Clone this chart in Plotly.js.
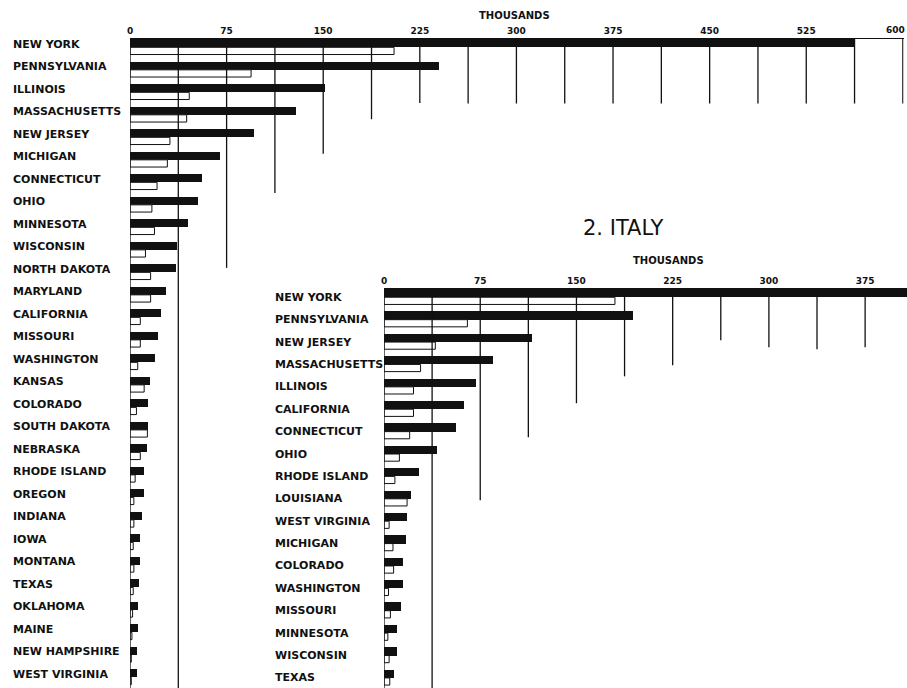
<!DOCTYPE html>
<html>
<head>
<meta charset="utf-8">
<script src="https://cdn.plot.ly/plotly-3.0.1.min.js"></script>
<style>
html,body{margin:0;padding:0;background:#fff;}
#chart{width:907px;height:688px;}
</style>
</head>
<body>
<div id="chart"></div>
<script>
// ---------- DATA (thousands) ----------
// Chart 1 (top-left panel)
const statesA = ["NEW YORK","PENNSYLVANIA","ILLINOIS","MASSACHUSETTS","NEW JERSEY","MICHIGAN",
  "CONNECTICUT","OHIO","MINNESOTA","WISCONSIN","NORTH DAKOTA","MARYLAND","CALIFORNIA","MISSOURI",
  "WASHINGTON","KANSAS","COLORADO","SOUTH DAKOTA","NEBRASKA","RHODE ISLAND","OREGON","INDIANA",
  "IOWA","MONTANA","TEXAS","OKLAHOMA","MAINE","NEW HAMPSHIRE","WEST VIRGINIA"];
const valuesA1910 = [563,240,151,129,96,70,56,53,45,36.5,36,28,24,22,19.5,15.5,14,14,13,10.5,10.5,9.5,7.5,7.5,7,6.5,6,5.5,5.5];
const valuesA1900 = [205,94,46,44,31,29,21,17,19,12,16,16,8,8,6,11,5,13.5,8,4,3,3,2.5,3,2.5,2,1.5,1,1];

// Chart 2: ITALY
const statesB = ["NEW YORK","PENNSYLVANIA","NEW JERSEY","MASSACHUSETTS","ILLINOIS","CALIFORNIA",
  "CONNECTICUT","OHIO","RHODE ISLAND","LOUISIANA","WEST VIRGINIA","MICHIGAN","COLORADO",
  "WASHINGTON","MISSOURI","MINNESOTA","WISCONSIN","TEXAS"];
const valuesB1910 = [472,194,115,85,71.5,62.5,56,41,27.5,21,18,17,15,14.5,13,10.5,10,8];
const valuesB1900 = [180,65,40,28.5,23,23,20,12,8.5,18,4,7,7.5,3.5,5,3,4,4.5];

const tickValsA = [0,75,150,225,300,375,450,525,600];
const tickValsB = [0,75,150,225,300,375];
const axisUnit = "THOUSANDS";
const panelTitleB = "2. ITALY";

// ---------- STYLE / LAYOUT CONFIG ----------
const W = 907, H = 688;
const INK = "#111";
const BLACK_W = 0.37, WHITE_W = 0.32;
// reference gridlines: value and the row (category index) where each line stops
const gridA = [[0,"end"],[37.5,"end"],[75,9.8],[112.5,6.47],[150,4.73],[187.5,3.2],[225,2.47],
  [262.5,2.5],[300,2.5],[337.5,2.5],[375,2.5],[412.5,2.5],[450,2.5],[487.5,2.5],[525,2.5],[562.5,2.5],[600,2.5]];
const gridB = [[0,"end"],[37.5,"end"],[75,9.06],[112.5,6.25],[150,4.73],[187.5,3.53],[225,3.04],
  [262.5,1.92],[300,2.23],[337.5,2.32],[375,2.23]];

const yRangeA = [28.47, -BLACK_W];
const yRangeB = [17.45, -BLACK_W];

const labelFont = {family:"DejaVu Sans", size:11, weight:700, color:INK};
const tickFont = {family:"DejaVu Sans", size:9, weight:700, color:INK};

function bars(states, v1910, v1900, xa, ya){
  return [
    {type:"bar", orientation:"h", x:v1910, y:states, xaxis:xa, yaxis:ya,
     width:BLACK_W, offset:-BLACK_W, marker:{color:INK, line:{width:0}},
     hoverinfo:"skip", showlegend:false, cliponaxis:true},
    {type:"bar", orientation:"h", x:v1900, y:states, xaxis:xa, yaxis:ya,
     width:WHITE_W, offset:0, marker:{color:"#fff", line:{color:INK, width:1}},
     hoverinfo:"skip", showlegend:false, cliponaxis:true}
  ];
}

const data = [
  ...bars(statesA, valuesA1910, valuesA1900, "x", "y"),
  ...bars(statesB, valuesB1910, valuesB1900, "x2", "y2")
];

const shapes = [];
gridA.forEach(([v,e]) => shapes.push({type:"line", xref:"x", yref:"y", x0:v, x1:v,
  y0:yRangeA[1], y1:(e==="end"?yRangeA[0]:e), line:{color:INK, width:1.3}, layer:"above"}));
gridB.forEach(([v,e]) => shapes.push({type:"line", xref:"x2", yref:"y2", x0:v, x1:v,
  y0:yRangeB[1], y1:(e==="end"?yRangeB[0]:e), line:{color:INK, width:1.3}, layer:"above"}));

const annotations = [];
statesA.forEach((s,i) => annotations.push({xref:"paper", yref:"y", x:11/W, y:i, yshift:3,
  text:s, showarrow:false, xanchor:"left", yanchor:"middle", font:labelFont}));
statesB.forEach((s,i) => annotations.push({xref:"paper", yref:"y2", x:273/W, y:i, yshift:0,
  text:s, showarrow:false, xanchor:"left", yanchor:"middle", font:labelFont}));
annotations.push({xref:"paper", yref:"paper", x:514/W, y:1-15/H, text:axisUnit, showarrow:false,
  xanchor:"center", yanchor:"middle", font:{family:"DejaVu Sans", size:10, weight:700, color:INK}});
annotations.push({xref:"paper", yref:"paper", x:668/W, y:1-260/H, text:axisUnit, showarrow:false,
  xanchor:"center", yanchor:"middle", font:{family:"DejaVu Sans", size:10, weight:700, color:INK}});
annotations.push({xref:"paper", yref:"paper", x:623/W, y:1-228/H, text:panelTitleB, showarrow:false,
  xanchor:"center", yanchor:"middle", font:{family:"DejaVu Sans", size:21, weight:400, color:INK}});
// last top-axis label sits at the page edge: right-align it so it stays visible
const lastA = tickValsA[tickValsA.length-1];
annotations.push({xref:"paper", yref:"paper", x:1, y:1-30/H, text:String(lastA), showarrow:false,
  xanchor:"right", yanchor:"middle", font:tickFont});

const xCommon = {side:"top", showgrid:false, zeroline:false, showline:true, linecolor:INK, linewidth:1.5,
  ticks:"", tickfont:tickFont, fixedrange:true};
const yCommon = {type:"category", showgrid:false, zeroline:false, showline:false, ticks:"",
  showticklabels:false, fixedrange:true};

const ticksA = tickValsA.slice(0, -1);
const layout = {
  width:W, height:H,
  margin:{l:0, r:0, t:0, b:0},
  paper_bgcolor:"#fff", plot_bgcolor:"rgba(0,0,0,0)",
  showlegend:false,
  bargap:0,
  xaxis: Object.assign({}, xCommon, {domain:[130/W, 903.5/W], range:[0, 600.5],
    anchor:"y", tickvals:ticksA, ticktext:ticksA.map(String)}),
  yaxis: Object.assign({}, yCommon, {domain:[0, 1-39/H], range:yRangeA, anchor:"x"}),
  xaxis2: Object.assign({}, xCommon, {domain:[384/W, 1], range:[0, (W-384)/1.283],
    anchor:"y2", tickvals:tickValsB, ticktext:tickValsB.map(String)}),
  yaxis2: Object.assign({}, yCommon, {domain:[0, 1-289/H], range:yRangeB, anchor:"x2"}),
  shapes: shapes,
  annotations: annotations
};

Plotly.newPlot("chart", data, layout, {displayModeBar:false, staticPlot:true});
</script>
</body>
</html>
